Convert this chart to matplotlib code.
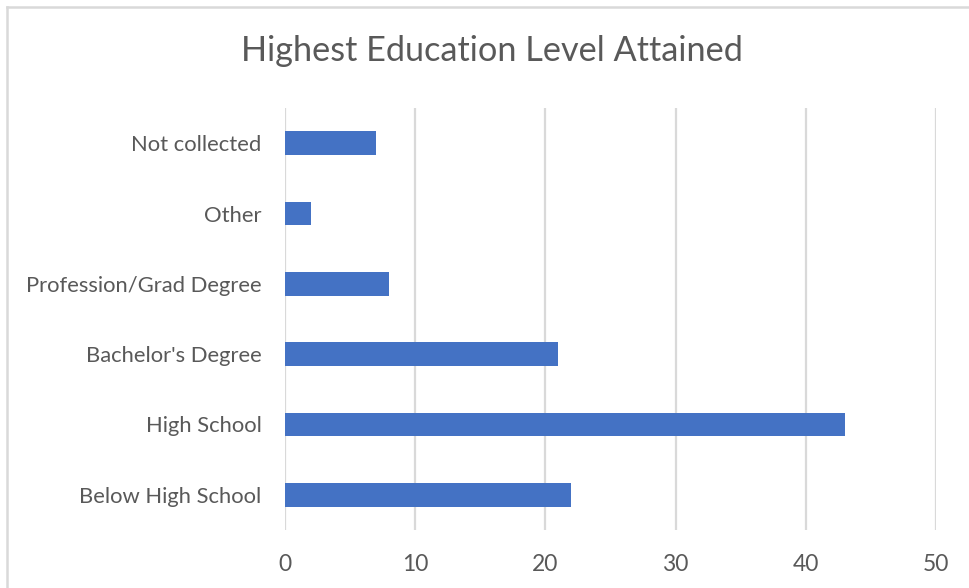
import matplotlib
matplotlib.use("Agg")
import matplotlib.pyplot as plt
from matplotlib.lines import Line2D

categories = ["Below High School", "High School", "Bachelor's Degree",
              "Profession/Grad Degree", "Other", "Not collected"]
counts = [22, 43, 21, 8, 2, 7]
x_ticks = [0, 10, 20, 30, 40, 50]
title = "Highest Education Level Attained"

plt.rcParams['font.family'] = ['Lato', 'DejaVu Sans']
text_color = "#595959"
grid_color = "#d9d9d9"
bar_color = "#4472C4"

fig = plt.figure(figsize=(9.69, 5.88), dpi=100)
ax = fig.add_axes([285 / 969, 1 - 530 / 588, (936 - 285) / 969, (530 - 108) / 588])

ax.barh(range(len(categories)), counts, height=0.34, color=bar_color, zorder=3)
ax.set_xlim(0, 50)
ax.set_ylim(-0.5, len(categories) - 0.5)
ax.set_xticks(x_ticks)
ax.set_xticklabels([str(t) for t in x_ticks])
ax.set_yticks(range(len(categories)))
ax.set_yticklabels(categories)

ax.grid(axis="x", color=grid_color, linewidth=1.6, zorder=0)
for s in ax.spines.values():
    s.set_visible(False)
ax.tick_params(axis="both", length=0, colors=text_color)
ax.tick_params(axis="y", labelsize=15.8, pad=17)
ax.tick_params(axis="x", labelsize=16.5, pad=17)

fig.text(492 / 969, 1 - 51 / 588, title, ha="center", va="center",
         fontsize=24.7, color=text_color)

# outer chart frame
fig.add_artist(Line2D([7 / 969, 7 / 969], [0, 1 - 7 / 588], transform=fig.transFigure,
                      color=grid_color, linewidth=1.8))
fig.add_artist(Line2D([7 / 969, 1], [1 - 7 / 588, 1 - 7 / 588], transform=fig.transFigure,
                      color=grid_color, linewidth=1.8))

fig.savefig("out.png", dpi=100, facecolor="white")
